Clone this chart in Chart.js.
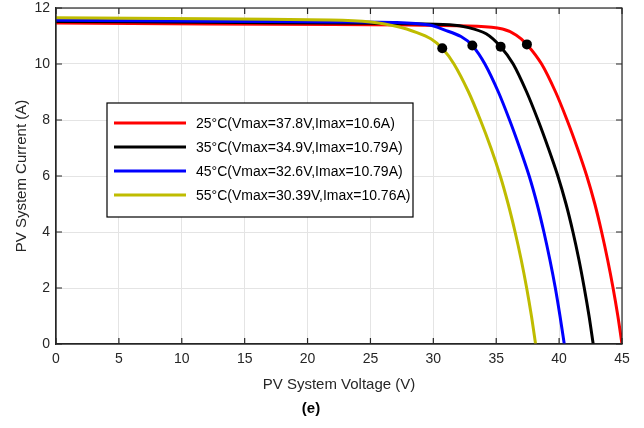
<!DOCTYPE html>
<html>
<head>
<meta charset="utf-8">
<script src="https://cdn.jsdelivr.net/npm/chart.js@4.4.1/dist/chart.umd.min.js"></script>
<style>
  html, body { margin: 0; padding: 0; background: #fff; }
  #wrap { width: 644px; height: 428px; }
</style>
</head>
<body>
<div id="wrap"><canvas id="grafico" width="644" height="428"></canvas></div>
<script>
// Series labels (legend text)
const rotulos = [
  '25°C(Vmax=37.8V,Imax=10.6A)',
  '35°C(Vmax=34.9V,Imax=10.79A)',
  '45°C(Vmax=32.6V,Imax=10.79A)',
  '55°C(Vmax=30.39V,Imax=10.76A)'
];
const cores = ['#ff0000', '#000000', '#0000ff', '#bfbc00'];

// I-V curves (voltage in V, current in A)
const v25 = [0, 12, 22, 28, 33.5, 35.5, 36.6, 37.44, 38.61, 39.72, 40.63, 41.45, 42.2, 42.84, 43.38, 43.86, 44.29, 44.67, 45.0];
const i25 = [11.46, 11.43, 11.41, 11.39, 11.35, 11.25, 11.03, 10.7, 10, 9, 8, 7, 6, 5, 4, 3, 2, 1, 0];

const v35 = [0, 12, 22, 28, 31.3, 32.8, 34.2, 35.35, 36.35, 37.42, 38.32, 39.14, 39.9, 40.55, 41.1, 41.58, 42.0, 42.38, 42.71];
const i35 = [11.52, 11.49, 11.46, 11.44, 11.4, 11.3, 11.08, 10.62, 10, 9, 8, 7, 6, 5, 4, 3, 2, 1, 0];

const v45 = [0, 12, 22, 27.1, 29.7, 30.92, 32.2, 33.1, 34.1, 35.17, 36.06, 36.87, 37.62, 38.25, 38.79, 39.27, 39.7, 40.07, 40.41];
const i45 = [11.56, 11.53, 11.5, 11.48, 11.39, 11.21, 10.98, 10.66, 10, 9, 8, 7, 6, 5, 4, 3, 2, 1, 0];

const v55 = [0, 12, 21.8, 25, 27.2, 28.7, 29.8, 30.71, 31.64, 32.8, 33.74, 34.58, 35.32, 35.95, 36.5, 36.99, 37.42, 37.8, 38.13];
const i55 = [11.65, 11.62, 11.57, 11.5, 11.33, 11.12, 10.9, 10.56, 10, 9, 8, 7, 6, 5, 4, 3, 2, 1, 0];

// Maximum power points (as marked on the curves)
const vMax = [37.44, 35.35, 33.1, 30.71];
const iMax = [10.7, 10.62, 10.66, 10.56];

// Axis ticks
const ticksX = [0, 5, 10, 15, 20, 25, 30, 35, 40, 45];
const ticksY = [0, 2, 4, 6, 8, 10, 12];

const fonte = "'Liberation Sans', Arial, sans-serif";
const corEixo = '#262626';

function pontos(vs, is) {
  return vs.map((v, k) => ({ x: v, y: is[k] }));
}

const curvas = [[v25, i25], [v35, i35], [v45, i45], [v55, i55]];

const datasets = curvas.map((c, k) => ({
  label: rotulos[k],
  data: pontos(c[0], c[1]),
  borderColor: cores[k],
  borderWidth: 3,
  pointRadius: 0,
  fill: false,
  tension: 0.3,
  order: 3 - k
}));

datasets.push({
  label: 'MPP',
  data: pontos(vMax, iMax),
  showLine: false,
  pointRadius: 5,
  pointBackgroundColor: '#000',
  pointBorderWidth: 0,
  order: -1
});

// Inward ticks on all four sides plus the box frame
const moldura = {
  id: 'moldura',
  afterDatasetsDraw(chart) {
    const { ctx, chartArea: a, scales: { x, y } } = chart;
    ctx.save();
    ctx.strokeStyle = corEixo;
    ctx.lineWidth = 1.2;
    ctx.strokeRect(a.left, a.top, a.right - a.left, a.bottom - a.top);
    ctx.beginPath();
    ticksX.forEach(t => {
      const px = x.getPixelForValue(t);
      ctx.moveTo(px, a.bottom); ctx.lineTo(px, a.bottom - 6);
      ctx.moveTo(px, a.top); ctx.lineTo(px, a.top + 6);
    });
    ticksY.forEach(t => {
      const py = y.getPixelForValue(t);
      ctx.moveTo(a.left, py); ctx.lineTo(a.left + 6, py);
      ctx.moveTo(a.right, py); ctx.lineTo(a.right - 6, py);
    });
    ctx.stroke();
    ctx.restore();
  }
};

// Legend box inside the plot area
const legendaCaixa = {
  id: 'legendaCaixa',
  afterDraw(chart) {
    const { ctx } = chart;
    const x0 = 107, y0 = 103, w = 306, h = 114;
    ctx.save();
    ctx.fillStyle = '#fff';
    ctx.fillRect(x0, y0, w, h);
    ctx.strokeStyle = '#000';
    ctx.lineWidth = 1.2;
    ctx.strokeRect(x0, y0, w, h);
    ctx.font = '14px ' + fonte;
    ctx.textBaseline = 'middle';
    rotulos.forEach((r, k) => {
      const ly = 123 + k * 24;
      ctx.strokeStyle = cores[k];
      ctx.lineWidth = 3;
      ctx.beginPath();
      ctx.moveTo(114, ly); ctx.lineTo(186, ly);
      ctx.stroke();
      ctx.fillStyle = '#000';
      ctx.fillText(r, 196, ly + 1);
    });
    ctx.restore();
  }
};

new Chart(document.getElementById('grafico'), {
  type: 'line',
  data: { datasets },
  options: {
    responsive: false,
    animation: false,
    layout: { padding: { top: 8, right: 22, left: 0, bottom: 0 } },
    plugins: {
      legend: { display: false },
      tooltip: { enabled: false },
      title: {
        display: true,
        position: 'bottom',
        text: '(e)',
        color: '#000',
        font: { family: fonte, size: 15, weight: 'bold' },
        padding: { top: 6, bottom: 10 }
      }
    },
    scales: {
      x: {
        type: 'linear',
        min: 0, max: 45,
        afterFit: s => { s.height = 50; s.paddingLeft = 0; s.paddingRight = 0; },
        grid: { color: '#e4e4e4', drawTicks: false },
        border: { color: corEixo, width: 1.2 },
        ticks: { stepSize: 5, padding: 7, color: corEixo, font: { family: fonte, size: 14 } },
        title: {
          display: true, text: 'PV System Voltage (V)', color: corEixo,
          font: { family: fonte, size: 15 }, padding: { top: 0, bottom: 0 }
        }
      },
      y: {
        min: 0, max: 12,
        afterFit: s => { s.width = 56; s.paddingTop = 0; s.paddingBottom = 0; },
        grid: { color: '#e4e4e4', drawTicks: false },
        border: { color: corEixo, width: 1.2 },
        ticks: { stepSize: 2, padding: 6, color: corEixo, font: { family: fonte, size: 14 } },
        title: {
          display: true, text: 'PV System Current (A)', color: corEixo,
          font: { family: fonte, size: 15 }, padding: { top: 13, bottom: 0 }
        }
      }
    }
  },
  plugins: [moldura, legendaCaixa]
});
</script>
</body>
</html>
